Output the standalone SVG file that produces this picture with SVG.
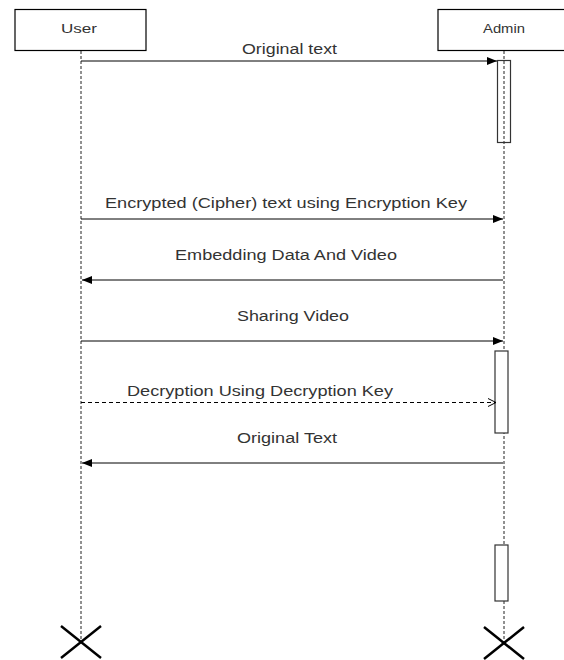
<svg xmlns="http://www.w3.org/2000/svg" width="564" height="660" viewBox="0 0 564 660">
  <defs>
    <marker id="filled" markerWidth="10" markerHeight="8" refX="10" refY="4" orient="auto" markerUnits="userSpaceOnUse">
      <path d="M0,0 L10,4 L0,8 Z" fill="#000"/>
    </marker>
    <marker id="open" markerWidth="10" markerHeight="10" refX="9" refY="5" orient="auto" markerUnits="userSpaceOnUse">
      <path d="M1,1 L9,5 L1,9" fill="none" stroke="#000" stroke-width="1"/>
    </marker>
  </defs>
  <style>
    .box { fill: #fff; stroke: #000; stroke-width: 1.2; }
    .label { font-family: "Liberation Sans", Arial, sans-serif; font-size: 13px; fill: #333; }
    .msg { font-family: "Liberation Sans", Arial, sans-serif; font-size: 14px; fill: #333; }
    .life { stroke: #222; stroke-width: 1; stroke-dasharray: 3 2; fill: none; }
    .act { stroke: #333; stroke-width: 1.2; }
    .call { stroke: #000; stroke-width: 1; fill: none; marker-end: url(#filled); }
    .async { stroke: #000; stroke-width: 1; fill: none; stroke-dasharray: 4 3; marker-end: url(#open); }
    .cross { stroke: #000; stroke-width: 2.5; }
  </style>
  <rect width="564" height="660" fill="#fff"/>

  <!-- lifelines -->
  <g id="lifelines">
    <line class="life" x1="81" y1="51" x2="81" y2="642"/>
    <line class="life" x1="504" y1="51" x2="504" y2="642"/>
  </g>

  <g id="user">
    <rect class="box" x="15" y="9.5" width="131" height="41"/>
    <text class="label" x="61" y="33" textLength="36" lengthAdjust="spacingAndGlyphs">User</text>
  </g>

  <g id="admin">
    <rect class="box" x="438" y="9.5" width="132" height="41"/>
    <text class="label" x="483" y="33" textLength="42" lengthAdjust="spacingAndGlyphs">Admin</text>
  </g>

  <!-- activation bars on the Admin lifeline -->
  <g id="activation-1">
    <rect class="act" x="497.5" y="60.5" width="13" height="82" fill="none"/>
  </g>
  <g id="activation-2">
    <rect class="act" x="495" y="351" width="13" height="82" fill="#fff"/>
  </g>
  <g id="activation-3">
    <rect class="act" x="495" y="545" width="13" height="56" fill="#fff"/>
  </g>

  <!-- messages -->
  <g id="connectors">
    <line class="call" x1="81" y1="61" x2="497" y2="61"/>
    <line class="call" x1="81" y1="219" x2="503" y2="219"/>
    <line class="call" x1="503" y1="280" x2="82" y2="280"/>
    <line class="call" x1="81" y1="341" x2="503" y2="341"/>
    <line class="async" x1="81" y1="402.5" x2="496" y2="402.5"/>
    <line class="call" x1="503" y1="463" x2="82" y2="463"/>
  </g>

  <g id="labels">
    <text class="msg" x="242" y="54" textLength="95" lengthAdjust="spacingAndGlyphs">Original text</text>
    <text class="msg" x="105" y="208" textLength="362" lengthAdjust="spacingAndGlyphs">Encrypted (Cipher) text using Encryption Key</text>
    <text class="msg" x="175" y="260" textLength="222" lengthAdjust="spacingAndGlyphs">Embedding Data And Video</text>
    <text class="msg" x="237" y="321" textLength="112" lengthAdjust="spacingAndGlyphs">Sharing Video</text>
    <text class="msg" x="127" y="396" textLength="266" lengthAdjust="spacingAndGlyphs">Decryption Using Decryption Key</text>
    <text class="msg" x="237" y="443" textLength="100" lengthAdjust="spacingAndGlyphs">Original Text</text>
  </g>

  <!-- lifeline terminations -->
  <g id="user-end">
    <line class="cross" x1="61" y1="626" x2="101" y2="658"/>
    <line class="cross" x1="101" y1="626" x2="61" y2="658"/>
  </g>
  <g id="admin-end">
    <line class="cross" x1="484" y1="627" x2="524" y2="659"/>
    <line class="cross" x1="524" y1="627" x2="484" y2="659"/>
  </g>
</svg>
